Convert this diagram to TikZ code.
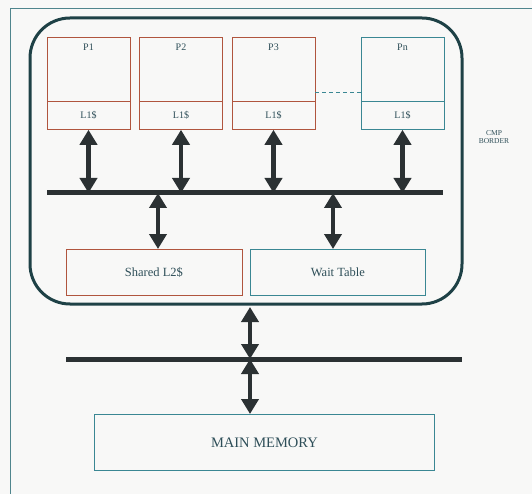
\documentclass[tikz,border=0pt]{standalone}
\usepackage{fontspec}
\setmainfont{Liberation Serif}
\usetikzlibrary{arrows.meta,calc}
\definecolor{bg}{HTML}{F8F8F7}
\definecolor{redline}{HTML}{B0553E}
\definecolor{tealline}{HTML}{3A8793}
\definecolor{txt}{HTML}{2E4E58}
\definecolor{dark}{HTML}{2B3133}
\definecolor{cmpline}{HTML}{1E4146}
\begin{document}
\begin{tikzpicture}[x=1pt,y=-1pt,
  box/.style={draw=#1, line width=0.8pt, fill=bg, inner sep=0pt, text=txt},
  cmpbox/.style={draw=cmpline, line width=3pt, rounded corners=40pt, inner sep=0pt},
  bus/.style={draw=dark, line width=5pt},
  dbl/.style={draw=dark, line width=4.5pt, {Triangle[width=17pt,length=15pt]}-{Triangle[width=17pt,length=15pt]}, shorten <=0pt, shorten >=0pt},
  ]
\useasboundingbox (0,0) rectangle (532,494);
\fill[bg] (0,0) rectangle (532,494);
\draw[tealline!70!gray, line width=0.8pt] (10,500) -- (10,8) -- (540,8);

% CMP border
\node[cmpbox, minimum width=432pt, minimum height=286pt] (cmp) at (246,161) {};
\node[text=txt, font=\fontsize{7.5}{8.5}\selectfont, align=center] (cmplabel) at (494,137) {CMP\\BORDER};

% processors
\foreach \n/\cx/\lab/\col in {pa/88.5/P1/redline, pb/181/P2/redline, pc/273.5/P3/redline, pn/402.5/Pn/tealline}{
  \node[box=\col, minimum width=83pt, minimum height=64pt, anchor=north,
        font=\fontsize{10}{11}\selectfont] (\n) at (\cx,37) {};
  \node[text=txt, font=\fontsize{10}{11}\selectfont] (\n t) at (\cx,47) {\lab};
  \node[box=\col, minimum width=83pt, minimum height=28pt, anchor=north,
        font=\fontsize{10}{11}\selectfont] (\n l) at (\cx,101) {L1\$};
}
\draw[tealline, line width=0.8pt, dashed, dash pattern=on 4pt off 3pt] (pc.east |- 0,92) -- (pn.west |- 0,92);

% bus 1
\coordinate (b1L) at (47,193);
\coordinate (b1R) at (443,193);
\draw[bus] (b1L) -- (b1R);
\foreach \n in {pa,pb,pc,pn}{
  \draw[dbl] (\n l.south) -- (\n l.south |- b1L);
}

% L2 and wait table
\node[box=redline, minimum width=176pt, minimum height=46pt, anchor=north west,
      font=\fontsize{12.5}{14}\selectfont] (l2) at (65.5,249) {Shared L2\$};
\node[box=tealline, minimum width=175pt, minimum height=46pt, anchor=north west,
      font=\fontsize{12.5}{14}\selectfont] (wt) at (250,249) {Wait Table};
\coordinate (a2) at (158,193);
\coordinate (a3) at (333,193);
\draw[dbl] (a2) -- (a2 |- l2.north);
\draw[dbl] (a3) -- (a3 |- wt.north);

% bus 2
\coordinate (b2L) at (66,359);
\coordinate (b2R) at (462,359);
\coordinate (m) at (250,359);
\draw[bus] (b2L) -- (b2R);

% main memory
\node[box=tealline, minimum width=340pt, minimum height=56pt, anchor=north west,
      font=\fontsize{14.5}{16}\selectfont] (mem) at (94,414) {MAIN MEMORY};

\draw[dbl] ($(m |- cmp.south)+(0,1.5)$) -- (m);
\draw[dbl] (m) -- (m |- mem.north);
\end{tikzpicture}
\end{document}
